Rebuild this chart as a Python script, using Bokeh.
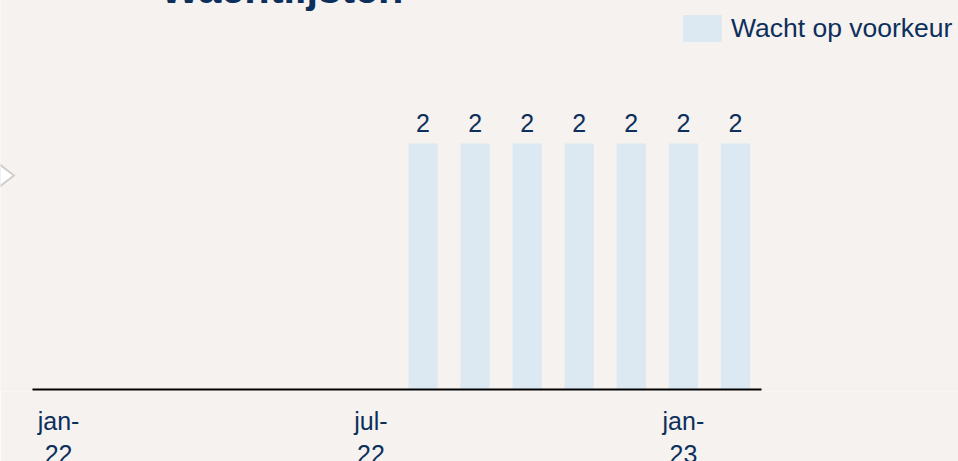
from bokeh.plotting import figure
from bokeh.models import (ColumnDataSource, FixedTicker, Label, LabelSet, Legend,
                          LegendItem, PolyAnnotation, Range1d)
from bokeh.core.properties import value
from bokeh.embed import file_html
from bokeh.resources import INLINE

# ---- data ----
months = ["jan-22", "feb-22", "mrt-22", "apr-22", "mei-22", "jun-22", "jul-22",
          "aug-22", "sep-22", "okt-22", "nov-22", "dec-22", "jan-23", "feb-23"]
wacht_op_voorkeur = [0, 0, 0, 0, 0, 0, 0, 2, 2, 2, 2, 2, 2, 2]
tick_months = ["jan-22", "jul-22", "jan-23"]
tick_labels = ["jan-\n22", "jul-\n22", "jan-\n23"]
title_text = "Wachtlijsten"
series_name = "Wacht op voorkeur"

# ---- style / layout ----
BG = "#f5f2ef"
BAR = "#dce9f2"
NAVY = "#0d2f5c"
FONT = "Liberation Sans"

CW = 958                 # canvas width
AX_LEFT, AX_RIGHT = 32, 761   # where the category band starts / ends (px)
X_PX = (AX_RIGHT - AX_LEFT) / len(months)
Y_PX = 123.0             # px per unit
FRAME_H = 421            # frame from canvas top to just below the baseline
BASE_FROM_TOP = 419      # baseline (y=0) position inside the frame
BOTTOM = 90

n = len(months)
x_start = -0.5 - AX_LEFT / X_PX
x_end = x_start + CW / X_PX
y_start = -(FRAME_H - BASE_FROM_TOP) / Y_PX
y_end = BASE_FROM_TOP / Y_PX

idx = list(range(n))
src = ColumnDataSource(dict(x=idx, month=months, top=wacht_op_voorkeur))
lab_x = [i for i, v in zip(idx, wacht_op_voorkeur) if v]
lab_y = [v for v in wacht_op_voorkeur if v]
lab_src = ColumnDataSource(dict(x=lab_x, y=lab_y, t=[str(v) for v in lab_y]))

p = figure(width=CW, height=FRAME_H + BOTTOM, output_backend="svg", toolbar_location=None,
           x_range=Range1d(x_start, x_end), y_range=Range1d(y_start, y_end),
           min_border_left=0, min_border_right=0, min_border_top=0,
           min_border_bottom=BOTTOM)
p.margin = (-30, 0, -30, 0)
p.background_fill_color = BG
p.border_fill_color = BG
p.outline_line_color = None
p.xgrid.visible = False
p.ygrid.visible = False
p.yaxis.visible = False

r = p.vbar(x="x", top="top", width=0.56, source=src, fill_color=BAR, line_color=None)

# baseline of the category axis
p.segment(x0=[-0.5], x1=[n - 0.5], y0=[0], y1=[0], line_color="black", line_width=2)

ax = p.xaxis[0]
ax.ticker = FixedTicker(ticks=[months.index(m) for m in tick_months])
ax.major_label_overrides = {months.index(m): l for m, l in zip(tick_months, tick_labels)}
ax.axis_line_color = None
ax.major_tick_line_color = None
ax.minor_tick_line_color = None
ax.major_label_text_font = FONT
ax.major_label_text_font_size = "25px"
ax.major_label_text_color = NAVY
ax.major_label_standoff = 9

labels = LabelSet(x="x", y="y", text="t", source=lab_src, y_offset=12,
                  text_align="center", text_baseline="alphabetic",
                  text_font=value(FONT), text_font_size="25px", text_color=NAVY)
p.add_layout(labels)

legend = Legend(items=[LegendItem(label=series_name, renderers=[r])],
                location=(678, 346), orientation="vertical",
                glyph_width=48, glyph_height=34, label_height=34,
                label_standoff=5, padding=0, margin=0, spacing=0,
                border_line_color=None, background_fill_alpha=0,
                label_text_font=FONT, label_text_font_size="26.5px",
                label_text_color=NAVY)
p.add_layout(legend)

title = Label(x=x_start + 160 / X_PX, y=y_end - 18 / Y_PX, text=title_text, text_font=FONT,
              text_font_size="41.5px", text_font_style="bold", text_color=NAVY,
              text_align="left", text_baseline="alphabetic")
p.add_layout(title)

shadow = PolyAnnotation(xs=[-7, 15, -7], ys=[188, 205, 222], xs_units="canvas",
                        ys_units="canvas", fill_color="#8a8a8a", fill_alpha=0.35,
                        line_color=None)
tri = PolyAnnotation(xs=[-5, 12, -5], ys=[192, 205, 218], xs_units="canvas",
                     ys_units="canvas", fill_color="white", fill_alpha=1.0,
                     line_color=None)
p.add_layout(shadow)
p.add_layout(tri)

open("out.html", "w").write(file_html(p, INLINE))
